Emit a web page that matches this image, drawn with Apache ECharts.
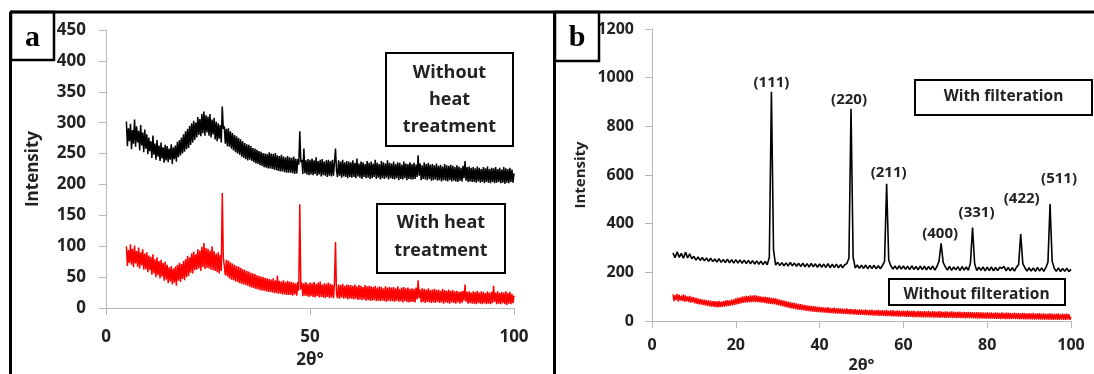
<!DOCTYPE html>
<html>
<head>
<meta charset="utf-8">
<script src="https://cdn.jsdelivr.net/npm/echarts@6/dist/echarts.min.js"></script>
<style>
  html, body { margin: 0; padding: 0; background: #ffffff; }
  #chart { width: 1094px; height: 374px; }
</style>
</head>
<body>
<div id="chart"></div>
<script>
// ---- sampling grids (2θ, degrees) ----
const angleStart = 5;
const fineStep = 0.25;    // 5° .. 100°, every 0.25°
const coarseStep = 0.5;   // 5° .. 100°, every 0.5°

// ---- panel a: intensities (fine grid) ----
const aWithoutHeat = [
  302, 262, 291, 270, 298, 257, 288, 266, 305, 261, 294, 268, 287, 255, 296, 263, 284, 252, 289, 258,
  281, 249, 276, 254, 270, 243, 279, 248, 266, 240, 272, 245, 263, 238, 268, 242, 260, 235, 264, 239,
  262, 236, 258, 240, 265, 233, 260, 241, 263, 237, 269, 244, 272, 247, 276, 250, 281, 253, 286, 257,
  290, 259, 295, 264, 299, 268, 303, 272, 300, 276, 309, 280, 306, 278, 314, 283, 318, 279, 312, 284,
  310, 279, 314, 276, 305, 281, 308, 273, 302, 270, 299, 274, 296, 268, 326, 290, 294, 266, 290, 262,
  291, 261, 286, 258, 283, 255, 280, 252, 278, 250, 275, 248, 273, 245, 270, 243, 267, 241, 265, 239,
  264, 240, 262, 238, 259, 236, 258, 234, 256, 233, 254, 231, 253, 230, 251, 228, 250, 227, 249, 226,
  252, 226, 250, 225, 249, 224, 251, 223, 247, 222, 246, 221, 248, 221, 245, 220, 244, 219, 246, 219,
  244, 219, 243, 218, 245, 217, 242, 218, 241, 232, 286, 236, 240, 217, 258, 218, 239, 216, 241, 215,
  240, 216, 242, 215, 239, 217, 244, 214, 238, 216, 240, 213, 241, 215, 237, 214, 239, 212, 240, 214,
  238, 213, 240, 214, 236, 258, 222, 212, 239, 214, 237, 211, 240, 213, 236, 212, 238, 210, 237, 212,
  236, 211, 239, 212, 235, 210, 242, 213, 234, 211, 237, 209, 236, 212, 233, 210, 238, 211, 235, 209,
  237, 210, 234, 212, 240, 209, 235, 211, 233, 208, 238, 210, 236, 209, 234, 211, 239, 208, 235, 210,
  234, 209, 237, 208, 233, 210, 236, 207, 235, 209, 232, 208, 237, 210, 234, 207, 233, 209, 236, 208,
  233, 208, 235, 209, 232, 212, 247, 214, 234, 207, 231, 209, 236, 208, 233, 207, 235, 209, 232, 206,
  233, 207, 231, 208, 234, 206, 230, 207, 232, 205, 229, 207, 233, 206, 231, 205, 230, 207, 232, 205,
  230, 206, 228, 205, 231, 204, 229, 206, 227, 205, 230, 210, 238, 206, 228, 204, 229, 205, 227, 204,
  228, 204, 226, 203, 229, 205, 227, 203, 225, 204, 228, 202, 226, 204, 229, 203, 225, 202, 227, 204,
  226, 202, 228, 203, 225, 204, 227, 202, 224, 203, 228, 201, 226, 203, 225, 202, 227, 204, 224, 203,
  218
];
const aWithHeat = [
  100, 68, 94, 73, 103, 70, 96, 66, 101, 72, 92, 67, 98, 64, 90, 69, 95, 62, 88, 63,
  90, 58, 85, 61, 83, 54, 87, 56, 79, 50, 82, 53, 76, 48, 78, 51, 73, 44, 75, 46,
  70, 40, 66, 43, 68, 38, 64, 41, 67, 36, 70, 44, 73, 42, 71, 47, 76, 45, 79, 50,
  84, 52, 82, 57, 88, 56, 91, 61, 87, 62, 95, 64, 93, 60, 99, 66, 105, 63, 97, 65,
  96, 64, 93, 62, 100, 61, 92, 60, 88, 58, 90, 56, 86, 60, 186, 82, 80, 53, 78, 51,
  77, 48, 74, 46, 72, 45, 70, 43, 68, 42, 67, 40, 65, 39, 63, 38, 62, 37, 60, 36,
  59, 34, 57, 33, 56, 32, 55, 31, 53, 30, 52, 29, 51, 28, 50, 28, 49, 27, 48, 26,
  47, 26, 46, 25, 48, 24, 45, 24, 52, 23, 44, 23, 43, 22, 45, 22, 42, 21, 44, 21,
  43, 21, 42, 20, 41, 22, 40, 20, 42, 28, 168, 30, 41, 19, 40, 20, 42, 19, 39, 18,
  41, 19, 40, 18, 42, 17, 39, 19, 41, 17, 43, 18, 38, 17, 40, 16, 39, 18, 41, 16,
  39, 17, 38, 16, 40, 107, 22, 16, 38, 15, 37, 17, 39, 15, 36, 16, 38, 14, 37, 15,
  37, 15, 36, 14, 38, 15, 35, 13, 37, 14, 36, 13, 34, 14, 37, 12, 35, 13, 36, 12,
  35, 12, 34, 13, 36, 11, 33, 12, 35, 11, 34, 12, 32, 11, 35, 10, 33, 12, 34, 11,
  33, 11, 34, 10, 32, 12, 35, 10, 31, 11, 33, 9, 34, 11, 32, 10, 33, 9, 31, 10,
  32, 10, 31, 9, 33, 14, 45, 16, 30, 9, 32, 10, 31, 8, 30, 10, 32, 9, 29, 8,
  30, 9, 31, 8, 29, 10, 30, 8, 28, 9, 31, 7, 29, 9, 28, 8, 30, 7, 28, 9,
  29, 8, 27, 7, 28, 9, 26, 7, 27, 8, 28, 12, 38, 10, 26, 7, 27, 8, 25, 7,
  27, 7, 26, 6, 28, 8, 25, 7, 27, 6, 26, 8, 24, 6, 27, 7, 25, 6, 26, 8,
  36, 10, 25, 6, 27, 7, 24, 6, 26, 8, 25, 6, 27, 5, 24, 7, 26, 6, 23, 8,
  20
];

// ---- panel b ----
// with filtration (coarse grid)
const bWithFilter = [
  280, 260, 284, 262, 278, 258, 283, 259, 276, 256,
  266, 250, 263, 249, 261, 247, 259, 245, 258, 244,
  255, 242, 256, 241, 253, 240, 254, 239, 252, 238,
  252, 238, 251, 237, 250, 236, 249, 235, 248, 234,
  247, 233, 246, 232, 245, 231, 262, 942, 292, 230,
  241, 228, 240, 227, 239, 226, 241, 227, 238, 225,
  237, 224, 238, 223, 236, 222, 237, 223, 235, 221,
  235, 221, 234, 220, 236, 219, 233, 220, 234, 218,
  232, 219, 231, 236, 258, 872, 262, 218, 230, 217,
  229, 216, 230, 215, 228, 216, 229, 214, 227, 215,
  228, 245, 564, 250, 227, 213, 226, 212, 227, 213,
  226, 212, 225, 211, 227, 212, 224, 210, 226, 211,
  225, 210, 224, 211, 226, 209, 224, 246, 319, 240,
  223, 209, 224, 208, 222, 210, 223, 207, 224, 209,
  222, 208, 238, 384, 236, 207, 221, 208, 222, 206,
  221, 207, 222, 206, 220, 207, 221, 216, 225, 206,
  220, 206, 219, 205, 221, 232, 357, 236, 219, 205,
  219, 205, 218, 204, 220, 205, 218, 204, 219, 242,
  481, 246, 217, 204, 218, 203, 216, 204, 217, 203,
  212
];
// without filtration (fine grid)
const bWithoutFilter = [
  110, 82, 106, 86, 112, 80, 108, 84, 104, 83, 109, 79, 105, 81, 101, 78, 103, 75, 99, 77,
  98, 72, 95, 70, 93, 68, 91, 67, 89, 65, 88, 63, 86, 62, 85, 60, 84, 59, 82, 58,
  82, 57, 81, 56, 83, 57, 80, 58, 82, 59, 84, 60, 86, 61, 85, 63, 88, 64, 89, 66,
  93, 68, 96, 70, 97, 72, 100, 74, 101, 75, 103, 76, 102, 77, 105, 78, 104, 79, 106, 77,
  104, 78, 102, 76, 101, 75, 99, 74, 100, 72, 98, 71, 97, 70, 95, 69, 94, 68, 93, 66,
  91, 64, 88, 62, 86, 60, 84, 58, 82, 56, 80, 54, 78, 52, 76, 50, 74, 49, 72, 47,
  70, 46, 69, 45, 67, 44, 66, 42, 64, 41, 63, 40, 62, 39, 61, 38, 60, 37, 59, 36,
  58, 35, 57, 34, 56, 34, 55, 33, 57, 32, 54, 32, 53, 31, 55, 31, 52, 30, 53, 30,
  52, 29, 51, 29, 50, 28, 52, 28, 49, 27, 50, 27, 48, 26, 49, 26, 47, 25, 48, 25,
  47, 25, 46, 24, 48, 24, 45, 23, 46, 23, 47, 22, 44, 22, 45, 22, 46, 21, 44, 21,
  45, 21, 44, 20, 46, 20, 43, 20, 44, 19, 45, 19, 42, 19, 44, 18, 43, 18, 42, 18,
  43, 18, 42, 17, 44, 17, 41, 17, 42, 16, 43, 16, 40, 16, 42, 16, 41, 15, 40, 15,
  41, 15, 40, 15, 42, 14, 39, 15, 41, 14, 40, 14, 39, 14, 41, 13, 40, 14, 38, 13,
  40, 13, 39, 14, 38, 13, 40, 12, 39, 13, 37, 12, 38, 13, 39, 12, 37, 12, 38, 11,
  37, 12, 38, 11, 36, 12, 37, 11, 35, 11, 37, 10, 36, 11, 35, 10, 36, 10, 34, 10,
  35, 10, 34, 9, 36, 10, 33, 9, 35, 9, 34, 9, 33, 8, 35, 9, 33, 8, 34, 8,
  34, 8, 33, 8, 32, 9, 34, 8, 32, 8, 33, 7, 31, 8, 33, 7, 32, 7, 31, 7,
  32, 7, 31, 7, 33, 6, 30, 7, 31, 6, 32, 6, 30, 6, 31, 6, 29, 6, 30, 5,
  31, 6, 30, 5, 29, 6, 30, 5, 31, 5, 28, 6, 30, 5, 29, 5, 30, 6, 28, 5,
  18
];

// ---- peak indexing (panel b) ----
const peakNames   = ['(111)', '(220)', '(211)', '(400)', '(331)', '(422)', '(511)'];
const peakAngles  = [28.5, 47.5, 56.0, 69.0, 76.5, 88.0, 95.0];
const peakHeights = [942, 872, 564, 319, 384, 357, 481];
// label nudges in pixels (layout only)
const peakLabelNudge = [[0, -1], [-2, -1], [2, -3], [-1, -1], [4, -6], [1, -27], [9, -17]];

// ---- axis ticks ----
const aYMax = 450, aYStep = 50, aXStep = 50;
const bYMax = 1200, bYStep = 200, bXStep = 20;

function toPairs(vals, step) {
  return vals.map(function (v, i) { return [angleStart + i * step, v]; });
}

const FONT = '"Open Sans", "Liberation Sans", sans-serif';
const TXT = '#222222';
const AXC = '#b8b8b8';

function xAxisCfg(idx, step, fs, margin, gap) {
  return {
    type: 'value', gridIndex: idx, min: 0, max: 100, interval: step,
    name: '2θ°', nameLocation: 'middle', nameGap: gap,
    nameTextStyle: { fontFamily: FONT, fontWeight: 'bold', fontSize: fs, color: TXT },
    axisLine: { show: true, onZero: false, lineStyle: { color: AXC, width: 1 } },
    axisTick: { show: true, length: 7, lineStyle: { color: AXC } },
    axisLabel: { fontFamily: FONT, fontWeight: 'bold', fontSize: fs, color: TXT, margin: margin,
                 formatter: function (v) { return String(v); } },
    splitLine: { show: false }
  };
}
function yAxisCfg(idx, max, step, fs, margin, nfs, gap) {
  return {
    type: 'value', gridIndex: idx, min: 0, max: max, interval: step,
    name: 'Intensity', nameLocation: 'middle', nameGap: gap,
    nameTextStyle: { fontFamily: FONT, fontWeight: 'bold', fontSize: nfs, color: TXT },
    axisLine: { show: true, lineStyle: { color: AXC, width: 1 } },
    axisTick: { show: true, length: 7, lineStyle: { color: AXC } },
    axisLabel: { fontFamily: FONT, fontWeight: 'bold', fontSize: fs, color: TXT, margin: margin,
                 formatter: function (v) { return String(v); } },
    splitLine: { show: false }
  };
}
function lineSeries(vals, step, color, xi, yi, w) {
  return {
    type: 'line', xAxisIndex: xi, yAxisIndex: yi, data: toPairs(vals, step),
    showSymbol: false, symbol: 'none', smooth: false, sampling: null,
    lineStyle: { color: color, width: w, join: 'bevel' }, itemStyle: { color: color },
    emphasis: { disabled: true },
    z: 3
  };
}

function boxRect(x, y, w, h, lw) {
  return { type: 'rect', z: 100, shape: { x: x, y: y, width: w, height: h },
           style: { fill: '#ffffff', stroke: '#000000', lineWidth: lw } };
}
function boxText(x, y, text, fs, lh) {
  return { type: 'text', z: 101, x: x, y: y,
           style: { text: text, fill: TXT, font: 'bold ' + fs + 'px ' + FONT,
                    textAlign: 'center', textVerticalAlign: 'middle', lineHeight: lh } };
}
function rule(x1, y1, x2, y2, lw) {
  return { type: 'line', z: 102, shape: { x1: x1, y1: y1, x2: x2, y2: y2 },
           style: { stroke: '#000000', lineWidth: lw } };
}

const peakLabelData = peakNames.map(function (n, i) {
  return {
    value: [peakAngles[i], peakHeights[i]],
    label: { show: true, formatter: n, position: 'top', distance: 1, offset: peakLabelNudge[i],
             fontFamily: FONT, fontWeight: 'bold', fontSize: 15, color: TXT }
  };
});

const chart = echarts.init(document.getElementById('chart'), null, { renderer: 'canvas' });
chart.setOption({
  animation: false,
  backgroundColor: '#ffffff',
  grid: [
    { left: 106, right: 1094 - 514, top: 30, bottom: 374 - 308,
      containLabel: false, outerBoundsMode: 'none' },
    { left: 652, right: 1094 - 1071, top: 29, bottom: 374 - 321,
      containLabel: false, outerBoundsMode: 'none' }
  ],
  xAxis: [
    xAxisCfg(0, aXStep, 17, 21, 44),
    xAxisCfg(1, bXStep, 16, 16, 34)
  ],
  yAxis: [
    yAxisCfg(0, aYMax, aYStep, 17, 20, 17, 64),
    yAxisCfg(1, bYMax, bYStep, 16, 18, 15, 64)
  ],
  series: [
    lineSeries(aWithoutHeat, fineStep, '#000000', 0, 0, 1.5),
    lineSeries(aWithHeat, fineStep, '#ff0000', 0, 0, 1.5),
    lineSeries(bWithFilter, coarseStep, '#000000', 1, 1, 1.6),
    lineSeries(bWithoutFilter, fineStep, '#ff0000', 1, 1, 1.4),
    {
      type: 'scatter', xAxisIndex: 1, yAxisIndex: 1, symbolSize: 0, silent: true,
      itemStyle: { color: TXT, opacity: 1 },
      data: peakLabelData,
      z: 5
    }
  ],
  graphic: [
    // panel frames
    rule(10, 12, 1094, 12, 3),
    rule(10.5, 12, 10.5, 374, 3),
    rule(554.5, 12, 554.5, 374, 3),
    // panel letters
    boxRect(11, 12, 43, 48, 2.5),
    { type: 'text', z: 101, x: 32.5, y: 38,
      style: { text: 'a', fill: '#000', font: 'bold 30px "Liberation Serif", serif',
               textAlign: 'center', textVerticalAlign: 'middle' } },
    boxRect(555, 12, 44, 49, 2.5),
    { type: 'text', z: 101, x: 577, y: 38,
      style: { text: 'b', fill: '#000', font: 'bold 30px "Liberation Serif", serif',
               textAlign: 'center', textVerticalAlign: 'middle' } },
    // annotation boxes
    boxRect(386, 53, 127, 93, 2),
    boxText(449.5, 99.5, 'Without\nheat\ntreatment', 18, 27),
    boxRect(377, 204, 128, 69, 2),
    boxText(441, 237, 'With heat\ntreatment', 18, 28),
    boxRect(915, 80, 177, 35, 2),
    boxText(1003.5, 97, 'With filteration', 15.5, 18),
    boxRect(889, 279, 176, 26, 2),
    boxText(976.5, 295, 'Without filteration', 15.5, 18)
  ]
});
</script>
</body>
</html>
